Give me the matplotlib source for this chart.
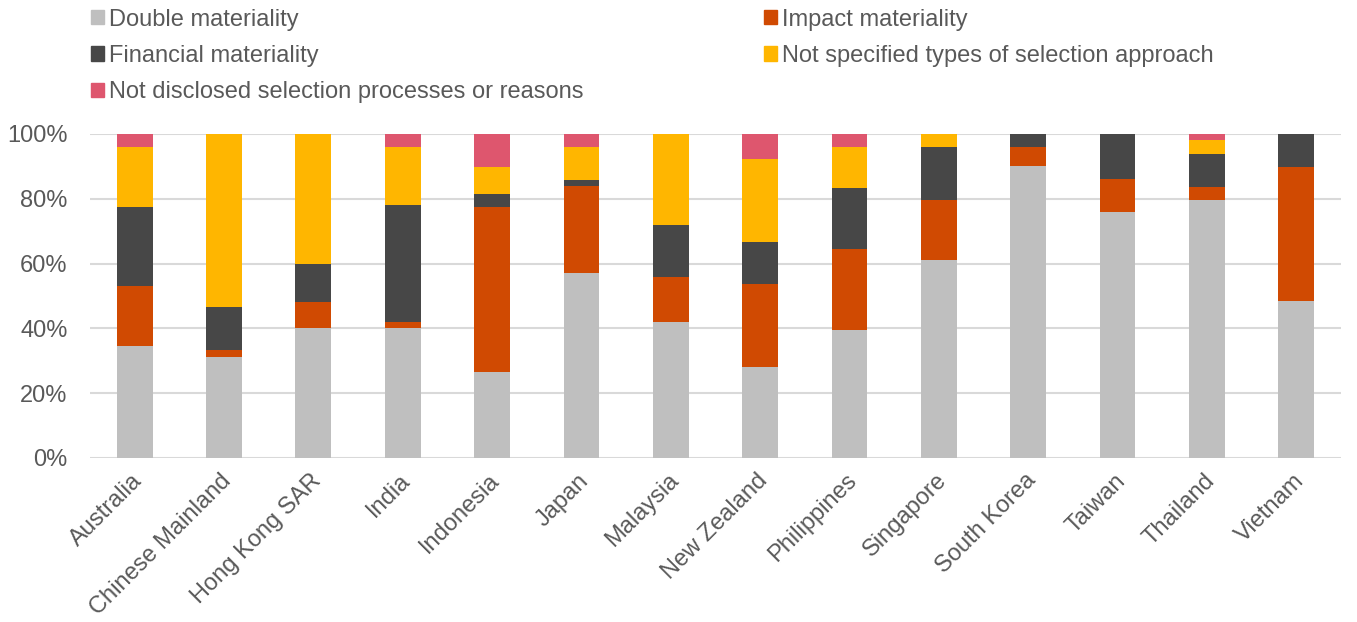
import numpy as np
import matplotlib.pyplot as plt
import matplotlib.transforms as mtransforms
from matplotlib.patches import Patch
from matplotlib.ticker import PercentFormatter

countries = ["Australia", "Chinese Mainland", "Hong Kong SAR", "India", "Indonesia",
             "Japan", "Malaysia", "New Zealand", "Philippines", "Singapore",
             "South Korea", "Taiwan", "Thailand", "Vietnam"]

# shares in %
double_mat = [34.6, 31.1, 40.0, 40.0, 26.5, 57.1, 42.0, 28.2, 39.6, 61.2, 90.0, 76.0, 79.6, 48.3]
impact_mat = [18.4, 2.2, 8.0, 2.0, 51.0, 26.8, 14.0, 25.6, 25.0, 18.4, 6.0, 10.0, 4.1, 41.4]
financial_mat = [24.5, 13.3, 12.0, 36.0, 4.1, 1.8, 16.0, 12.8, 18.8, 16.3, 4.0, 14.0, 10.2, 10.3]
not_specified = [18.5, 53.4, 40.0, 18.0, 8.2, 10.3, 28.0, 25.6, 12.5, 4.1, 0, 0, 4.1, 0]
not_disclosed = [4.0, 0, 0, 4.0, 10.2, 4.0, 0, 7.8, 4.1, 0, 0, 0, 2.0, 0]

series = [
    ("Double materiality", double_mat, "#BFBFBF"),
    ("Impact materiality", impact_mat, "#D04A02"),
    ("Financial materiality", financial_mat, "#474747"),
    ("Not specified types of selection approach", not_specified, "#FFB600"),
    ("Not disclosed selection processes or reasons", not_disclosed, "#DE566E"),
]

plt.rcParams['font.family'] = ['Liberation Sans', 'DejaVu Sans']
txt = "#595959"
fs = 17

fig = plt.figure(figsize=(13.57, 6.22), dpi=100)
ax = fig.add_axes([0.0663, 0.2637, 0.9219, 0.5209])

x = np.arange(len(countries))
bottom = np.zeros(len(countries))
for name, vals, col in series:
    vals = np.array(vals, dtype=float)
    ax.bar(x, vals, 0.4, bottom=bottom, color=col, label=name, zorder=3)
    bottom += vals

ax.set_xlim(-0.5, len(countries) - 0.5)
ax.set_ylim(0, 100)
ax.set_yticks(np.arange(0, 101, 20))
ax.yaxis.set_major_formatter(PercentFormatter(decimals=0))
ax.grid(axis='y', color='#D9D9D9', linewidth=1.5, zorder=0)
for s in ax.spines.values():
    s.set_visible(False)
ax.tick_params(axis='both', length=0, labelsize=fs, labelcolor=txt)
ax.tick_params(axis='y', pad=16)
ax.set_xticks(x)
ax.set_xticklabels(countries, rotation=45, ha='right', va='center', rotation_mode='anchor')
ax.tick_params(axis='x', pad=14)
shift = mtransforms.ScaledTranslation(3 / 72, 0, fig.dpi_scale_trans)
for lbl in ax.get_xticklabels():
    lbl.set_transform(lbl.get_transform() + shift)

# legend: two columns, placed separately
h = {name: Patch(color=col) for name, _, col in series}
kw = dict(frameon=False, fontsize=fs, labelcolor=txt, handlelength=0.55, handleheight=0.55,
          handletextpad=0.2, labelspacing=0.6, borderaxespad=0, borderpad=0)
col1 = ["Double materiality", "Financial materiality", "Not disclosed selection processes or reasons"]
col2 = ["Impact materiality", "Not specified types of selection approach"]
fig.legend([h[n] for n in col1], col1, loc='upper left', bbox_to_anchor=(0.067, 0.986), **kw)
fig.legend([h[n] for n in col2], col2, loc='upper left', bbox_to_anchor=(0.563, 0.986), **kw)

plt.savefig("out.png", dpi=100)
